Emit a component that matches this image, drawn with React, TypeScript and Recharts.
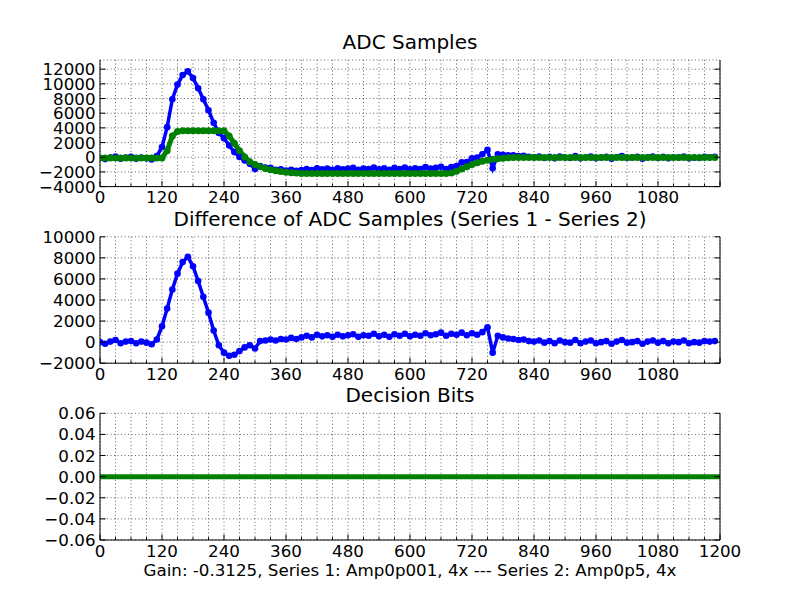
import { LineChart, Line, XAxis, YAxis, CartesianGrid } from 'recharts'

const FONT = '"DejaVu Sans", sans-serif'

// ADC samples, one value every 10 samples (0 .. 1190)
const series1 = [
  -100, -250, -50, 100, -200, -50, 50, -200, -50, -150,
  -300, 150, 1400, 4100, 7900, 9900, 11200, 11700, 10800, 9400,
  7900, 6400, 4700, 3300, 2600, 1600, 700, 50, -450, -900,
  -1600, -1200, -1400, -1450, -1700, -1650, -1800, -1700, -1850, -1750,
  -1600, -1750, -1500, -1650, -1550, -1700, -1500, -1650, -1550, -1450,
  -1700, -1550, -1600, -1400, -1650, -1500, -1700, -1450, -1600, -1400,
  -1650, -1500, -1600, -1350, -1550, -1450, -1300, -1600, -1350, -1200,
  -700, -650, -150, -50, 400, 1000, -1500, 400, 320, 270,
  250, 150, 200, 50, 0, 100, -100, 50, -150, 100,
  -50, -100, 150, -150, 0, 100, -150, -50, 50, -200,
  0, 150, -100, -50, 50, -200, 0, 100, -100, 50,
  -150, 0, -50, 100, -150, -50, -100, 50, 0, 50,
]

const series2 = [
  -100, -100, -100, -100, -100, -100, -100, -100, -100, -100,
  -100, -100, -100, 900, 2900, 3500, 3600, 3600, 3600, 3600,
  3600, 3600, 3600, 3600, 3600, 2900, 1900, 900, 50, -600,
  -1000, -1300, -1550, -1700, -1850, -1950, -2050, -2100, -2150, -2200,
  -2200, -2200, -2200, -2200, -2200, -2200, -2200, -2200, -2200, -2200,
  -2200, -2200, -2200, -2200, -2200, -2200, -2200, -2200, -2200, -2200,
  -2200, -2200, -2200, -2200, -2200, -2200, -2200, -2200, -2150, -1900,
  -1600, -1300, -1000, -750, -550, -400, -280, -200, -130, -80,
  -50, -50, -50, -50, -50, -50, -50, -50, -50, -50,
  -50, -50, -50, -50, -50, -50, -50, -50, -50, -50,
  -50, -50, -50, -50, -50, -50, -50, -50, -50, -50,
  -50, -50, -50, -50, -50, -50, -50, -50, -50, -50,
]

const difference = [
  0, -150, 50, 200, -100, 50, 100, -100, 50, -50,
  -200, 250, 1500, 3200, 5000, 6500, 7600, 8100, 7200, 5800,
  4300, 2800, 1100, -300, -1000, -1300, -1200, -850, -500, -300,
  -600, 100, 150, 250, 150, 300, 250, 400, 300, 450,
  600, 450, 700, 550, 650, 500, 700, 550, 650, 750,
  500, 650, 600, 800, 550, 700, 500, 750, 600, 800,
  550, 700, 600, 850, 650, 750, 900, 600, 800, 700,
  900, 650, 850, 700, 950, 1400, -1000, 600, 450, 350,
  300, 200, 250, 100, 50, 150, -50, 100, -100, 150,
  0, -50, 200, -100, 50, 150, -100, 0, 100, -150,
  50, 200, -50, 0, 100, -150, 50, 150, -50, 100,
  -100, 50, 0, 150, -100, 0, -50, 100, 50, 100,
]

const bitSamples = [0, 100, 200, 300, 400, 500, 600, 700, 800, 900, 1000, 1100, 1200]
const decisionBits = [0, 0, 0, 0, 0, 0, 0, 0, 0, 0, 0, 0, 0]

const adcTicks = [-4000, -2000, 0, 2000, 4000, 6000, 8000, 10000, 12000]
const diffTicks = [-2000, 0, 2000, 4000, 6000, 8000, 10000]
const bitTicks = [-0.06, -0.04, -0.02, 0, 0.02, 0.04, 0.06]
const xLabelStep = 120
const xGridTicks = Array.from({ length: 41 }, (_, i) => i * 30)

const adcData = series1.map((v, i) => ({ s: i * 10, s1: v, s2: series2[i] }))
const diffData = difference.map((v, i) => ({ s: i * 10, d: v }))
const bitData = decisionBits.map((v, i) => ({ s: bitSamples[i], b: v }))

const tickText = { fontFamily: FONT, fontSize: 16.7, fill: '#000' }

function fmt(v: number, digits: number) {
  const s = Math.abs(v) < 1e-9 ? (0).toFixed(digits) : v.toFixed(digits)
  return s.startsWith('-') ? '\u2212' + s.slice(1) : s
}

function Panel({ top, height, marginTop, axisHeight, data, yDomain, yTicks, digits, maxXLabel, children }: any) {
  const bottomTick = (p: any) => {
    const v = p.payload.value
    const major = v % xLabelStep === 0
    return (
      <g>
        <line x1={p.x} x2={p.x} y1={p.y} y2={p.y - (major ? 5.6 : 2.8)} stroke="#000" />
        {major && v <= maxXLabel && (
          <text x={p.x} y={p.y + 16.5} textAnchor="middle" style={tickText}>{v}</text>
        )}
      </g>
    )
  }
  const topTick = (p: any) => {
    const major = p.payload.value % xLabelStep === 0
    return <line x1={p.x} x2={p.x} y1={p.y} y2={p.y + (major ? 5.6 : 2.8)} stroke="#000" />
  }
  const leftTick = (p: any) => (
    <g>
      <line x1={p.x} x2={p.x + 5.6} y1={p.y} y2={p.y} stroke="#000" />
      <text x={p.x - 4.5} y={p.y + 6} textAnchor="end" style={tickText}>{fmt(p.payload.value, digits)}</text>
    </g>
  )
  const rightTick = (p: any) => <line x1={p.x} x2={p.x - 5.6} y1={p.y} y2={p.y} stroke="#000" />

  return (
    <div style={{ position: 'absolute', left: 0, top }}>
      <LineChart width={800} height={height} data={data} margin={{ top: marginTop, right: 0, bottom: 0, left: 0 }}>
        <CartesianGrid xAxisId="b" yAxisId="l" stroke="#000" strokeWidth={0.6} strokeDasharray="1 2.5" />
        <XAxis xAxisId="b" type="number" dataKey="s" domain={[0, 1200]} ticks={xGridTicks} interval={0}
          allowDataOverflow tickSize={0} tickMargin={0} height={axisHeight} axisLine={{ stroke: '#000' }} tick={bottomTick} />
        <XAxis xAxisId="t" orientation="top" type="number" dataKey="s" domain={[0, 1200]} ticks={xGridTicks} interval={0}
          allowDataOverflow tickSize={0} tickMargin={0} height={0} axisLine={{ stroke: '#000' }} tick={topTick} />
        <YAxis yAxisId="l" type="number" domain={yDomain} ticks={yTicks} interval={0} allowDataOverflow
          tickSize={0} tickMargin={0} width={100} axisLine={{ stroke: '#000' }} tick={leftTick} />
        <YAxis yAxisId="r" orientation="right" type="number" domain={yDomain} ticks={yTicks} interval={0} allowDataOverflow
          tickSize={0} tickMargin={0} width={80} axisLine={{ stroke: '#000' }} tick={rightTick} />
        {children}
      </LineChart>
    </div>
  )
}

export default function App() {
  return (
    <div style={{ position: 'absolute', left: 0, top: 0, width: 800, height: 600, background: '#fff' }}>
      <Panel top={0} height={220} marginTop={60} axisHeight={33.4} data={adcData}
        yDomain={[-4000, 13250]} yTicks={adcTicks} digits={0} maxXLabel={1080}>
        <Line xAxisId="b" yAxisId="l" dataKey="s1" stroke="#0000ff" strokeWidth={3.5}
          dot={{ r: 3.3, fill: '#0000ff', stroke: 'none' }} isAnimationActive={false} />
        <Line xAxisId="b" yAxisId="l" dataKey="s2" stroke="#008000" strokeWidth={5}
          dot={{ r: 3.5, fill: '#008000', stroke: 'none' }} isAnimationActive={false} />
      </Panel>
      <Panel top={200} height={200} marginTop={36.8} axisHeight={36.8} data={diffData}
        yDomain={[-2000, 10000]} yTicks={diffTicks} digits={0} maxXLabel={1080}>
        <Line xAxisId="b" yAxisId="l" dataKey="d" stroke="#0000ff" strokeWidth={3.5}
          dot={{ r: 3.3, fill: '#0000ff', stroke: 'none' }} isAnimationActive={false} />
      </Panel>
      <Panel top={390} height={210} marginTop={23.3} axisHeight={60} data={bitData}
        yDomain={[-0.06, 0.06]} yTicks={bitTicks} digits={2} maxXLabel={1200}>
        <Line xAxisId="b" yAxisId="l" dataKey="b" stroke="#008000" strokeWidth={5}
          dot={false} isAnimationActive={false} />
      </Panel>
      <svg width={800} height={600} style={{ position: 'absolute', left: 0, top: 0, pointerEvents: 'none' }}>
        <g style={{ fontFamily: FONT, fill: '#000' }} textAnchor="middle">
          <text x={410} y={49} fontSize={20}>ADC Samples</text>
          <text x={410} y={225.8} fontSize={20}>Difference of ADC Samples (Series 1 - Series 2)</text>
          <text x={410} y={402.3} fontSize={20}>Decision Bits</text>
          <text x={410} y={575.7} fontSize={16.7}>Gain: -0.3125, Series 1: Amp0p001, 4x --- Series 2: Amp0p5, 4x</text>
        </g>
      </svg>
    </div>
  )
}
